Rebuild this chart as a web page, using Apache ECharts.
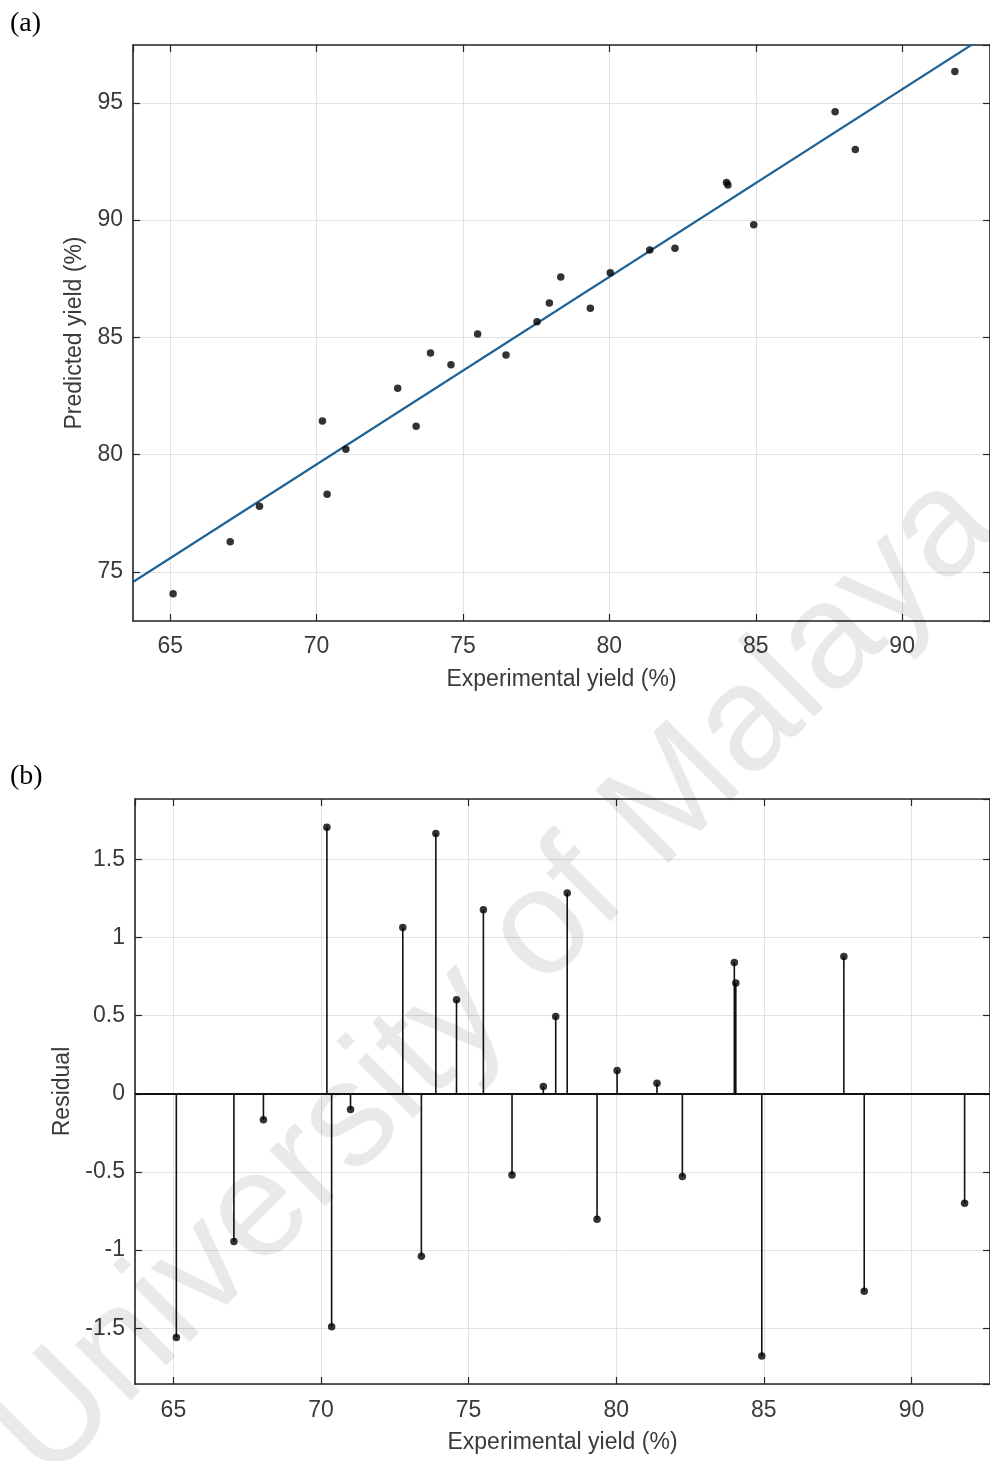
<!DOCTYPE html>
<html>
<head>
<meta charset="utf-8">
<script src="https://cdn.jsdelivr.net/npm/echarts@6/dist/echarts.min.js"></script>
<style>
  html, body { margin: 0; padding: 0; background: #ffffff; }
  #chart { width: 990px; height: 1461px; }
</style>
</head>
<body>
<div id="chart"></div>
<script>
// ---------------- data ----------------
const experimental = [65.10, 67.05, 68.05, 70.20, 70.36, 71.00, 72.77, 73.40, 73.89, 74.59,
                      75.50, 76.47, 77.53, 77.95, 78.34, 79.35, 80.03, 81.38, 82.24, 84.00,
                      84.05, 84.93, 87.71, 88.40, 91.80];
const predicted    = [74.06, 76.28, 77.80, 81.43, 78.31, 80.23, 82.83, 81.21, 84.33, 83.83,
                      85.14, 84.25, 85.66, 86.47, 87.57, 86.24, 87.76, 88.73, 88.80, 91.60,
                      91.50, 89.80, 94.62, 93.01, 96.34];
const residual     = [-1.56, -0.945, -0.166, 1.707, -1.49, -0.10, 1.065, -1.04, 1.667, 0.602,
                      1.178, -0.519, 0.047, 0.495, 1.285, -0.802, 0.149, 0.068, -0.529, 0.841,
                      0.709, -1.677, 0.879, -1.263, -0.70];
// fitted line: predicted = fitSlope * experimental + fitIntercept
const fitSlope = 0.80;
const fitIntercept = 23.58;

const panelLabels = ['(a)', '(b)'];
const xName = 'Experimental yield (%)';
const yNameA = 'Predicted yield (%)';
const yNameB = 'Residual';
const watermarkText = 'University of Malaya';

// axis ranges
const xRangeA = [63.73, 93.0];
const yRangeA = [72.9, 97.47];
const xRangeB = [63.70, 92.66];
const yRangeB = [-1.857, 1.887];

// ---------------- chart ----------------
const chart = echarts.init(document.getElementById('chart'), null, { renderer: 'canvas' });

const FONT = 'Liberation Sans, Arial, Helvetica, sans-serif';
const AXIS_COLOR = '#262626';
const TEXT_COLOR = '#3a3a3a';
const GRID_COLOR = '#e2e2e2';

function multipleFormatter(step) {
  return function (v) {
    const r = v / step;
    return Math.abs(r - Math.round(r)) < 1e-6 ? String(+v.toFixed(6)) : '';
  };
}

function mainX(gridIndex, range, nameGap, margin) {
  return {
    gridIndex, type: 'value', min: range[0], max: range[1], position: 'bottom',
    axisLine: { show: true, onZero: false, lineStyle: { color: AXIS_COLOR, width: 1.6 } },
    axisTick: { show: true, inside: true, length: 7, lineStyle: { color: AXIS_COLOR, width: 1.2 } },
    axisLabel: { show: true, margin, fontSize: 23, fontFamily: FONT, color: TEXT_COLOR,
                 formatter: multipleFormatter(5), showMinLabel: false, showMaxLabel: false },
    splitLine: { show: true, lineStyle: { color: GRID_COLOR, width: 1 } },
    name: xName, nameLocation: 'middle', nameGap,
    nameTextStyle: { fontSize: 23, fontFamily: FONT, color: TEXT_COLOR }
  };
}
function mirrorX(gridIndex, range) {
  return {
    gridIndex, type: 'value', min: range[0], max: range[1], position: 'top',
    axisLine: { show: true, onZero: false, lineStyle: { color: AXIS_COLOR, width: 1.6 } },
    axisTick: { show: true, inside: true, length: 7, lineStyle: { color: AXIS_COLOR, width: 1.2 } },
    axisLabel: { show: false }, splitLine: { show: false }
  };
}
function mainY(gridIndex, range, name, nameGap, step, splitNumber) {
  return {
    gridIndex, type: 'value', min: range[0], max: range[1], position: 'left', splitNumber,
    axisLine: { show: true, onZero: false, lineStyle: { color: AXIS_COLOR, width: 1.6 } },
    axisTick: { show: true, inside: true, length: 7, lineStyle: { color: AXIS_COLOR, width: 1.2 } },
    axisLabel: { show: true, margin: 10, fontSize: 23, fontFamily: FONT, color: TEXT_COLOR,
                 formatter: multipleFormatter(step), showMinLabel: false, showMaxLabel: false },
    splitLine: { show: true, lineStyle: { color: GRID_COLOR, width: 1 } },
    name, nameLocation: 'middle', nameGap, nameRotate: 90,
    nameTextStyle: { fontSize: 23, fontFamily: FONT, color: TEXT_COLOR }
  };
}
function mirrorY(gridIndex, range, splitNumber) {
  return {
    gridIndex, type: 'value', min: range[0], max: range[1], position: 'right', splitNumber,
    axisLine: { show: true, onZero: false, lineStyle: { color: AXIS_COLOR, width: 1.6 } },
    axisTick: { show: true, inside: true, length: 7, lineStyle: { color: AXIS_COLOR, width: 1.2 } },
    axisLabel: { show: false }, splitLine: { show: false }
  };
}

const scatterA = experimental.map((x, i) => [x, predicted[i]]);
const stemB = experimental.map((x, i) => [x, residual[i]]);
const fitLine = xRangeA.map(x => [x, fitSlope * x + fitIntercept]);

const option = {
  animation: false,
  backgroundColor: '#ffffff',
  grid: [
    { left: 133, top: 45, width: 857, height: 576, outerBoundsMode: 'none', containLabel: false },
    { left: 135, top: 799, width: 855, height: 585, outerBoundsMode: 'none', containLabel: false }
  ],
  xAxis: [
    mainX(0, xRangeA, 47, 14),
    mirrorX(0, xRangeA),
    mainX(1, xRangeB, 47, 15),
    mirrorX(1, xRangeB)
  ],
  yAxis: [
    mainY(0, yRangeA, yNameA, 39, 5, 5),
    mirrorY(0, yRangeA, 5),
    mainY(1, yRangeB, yNameB, 56, 0.5, 7),
    mirrorY(1, yRangeB, 7)
  ],
  series: [
    {
      type: 'line', xAxisIndex: 0, yAxisIndex: 0, data: fitLine,
      symbol: 'none', clip: true, silent: true,
      lineStyle: { color: '#1f6296', width: 2.2 }, z: 3
    },
    {
      type: 'scatter', xAxisIndex: 0, yAxisIndex: 0, data: scatterA,
      symbol: 'circle', symbolSize: 7.5, itemStyle: { color: '#000000' }, z: 4
    },
    {
      type: 'custom', xAxisIndex: 2, yAxisIndex: 2, data: stemB, z: 3, silent: true,
      renderItem: function (params, api) {
        const x = api.value(0), y = api.value(1);
        const p0 = api.coord([x, 0]);
        const p1 = api.coord([x, y]);
        return {
          type: 'line',
          shape: { x1: p0[0], y1: p0[1], x2: p1[0], y2: p1[1] },
          style: { stroke: '#111111', lineWidth: 1.6 }
        };
      }
    },
    {
      type: 'scatter', xAxisIndex: 2, yAxisIndex: 2, data: stemB,
      symbol: 'circle', symbolSize: 7.5, itemStyle: { color: '#000000' }, z: 4,
      markLine: {
        silent: true, symbol: 'none', animation: false,
        label: { show: false },
        lineStyle: { color: '#111111', width: 2, type: 'solid' },
        data: [{ yAxis: 0 }]
      }
    }
  ],
  graphic: [
    { type: 'text', left: 10, top: 10, silent: true,
      style: { text: panelLabels[0], font: '28px "Liberation Serif", "Times New Roman", serif', fill: '#000' } },
    { type: 'text', left: 10, top: 763, silent: true,
      style: { text: panelLabels[1], font: '28px "Liberation Serif", "Times New Roman", serif', fill: '#000' } },
    { type: 'text', x: 495, y: 978, rotation: Math.PI / 4, silent: true, z: 100,
      style: { text: watermarkText, font: '150px "Liberation Sans", Arial, sans-serif',
               fill: 'rgba(0,0,0,0.085)', align: 'center', verticalAlign: 'middle' } }
  ]
};

chart.setOption(option);
</script>
</body>
</html>
